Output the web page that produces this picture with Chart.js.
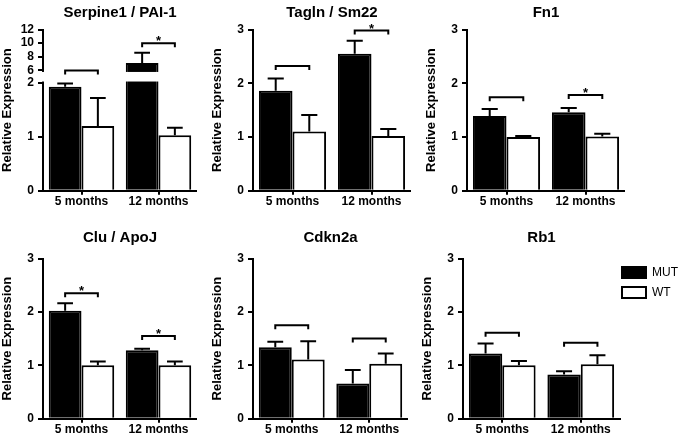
<!DOCTYPE html>
<html><head><meta charset="utf-8">
<script src="https://cdn.jsdelivr.net/npm/chart.js@4/dist/chart.umd.min.js"></script>
<style>
html,body{margin:0;padding:0;background:#fff;overflow:hidden;}
#wrap{position:relative;width:679px;height:438px;overflow:hidden;background:#fff;}
#wrap canvas{position:absolute;}
</style></head><body><div id="wrap"></div>
<script>
// ---------------- data ----------------
const categories = ['5 months', '12 months'];
const seriesNames = ['MUT', 'WT'];
const yTicksStd = [0, 1, 2, 3];
const yTicksSerpine = [0, 1, 2, 6, 8, 10, 12];
const serpineBreak = [2, 6];

const serpineMUT = [1.93, 7.09];
const serpineMUTErr = [0.06, 1.50];
const serpineWT = [1.20, 1.03];
const serpineWTErr = [0.52, 0.14];
const serpineBracket = [5.95, 10.0];
const serpineSig = [false, true];

const taglnMUT = [1.86, 2.55];
const taglnMUTErr = [0.23, 0.24];
const taglnWT = [1.10, 1.02];
const taglnWTErr = [0.31, 0.13];
const taglnBracket = [2.32, 2.98];
const taglnSig = [false, true];

const fn1MUT = [1.39, 1.46];
const fn1MUTErr = [0.13, 0.08];
const fn1WT = [1.00, 1.01];
const fn1WTErr = [0.02, 0.05];
const fn1Bracket = [1.74, 1.78];
const fn1Sig = [false, true];

const cluMUT = [2.02, 1.28];
const cluMUTErr = [0.14, 0.03];
const cluWT = [1.00, 1.00];
const cluWTErr = [0.07, 0.07];
const cluBracket = [2.35, 1.55];
const cluSig = [true, true];

const cdkn2aMUT = [1.34, 0.66];
const cdkn2aMUTErr = [0.10, 0.25];
const cdkn2aWT = [1.11, 1.03];
const cdkn2aWTErr = [0.34, 0.19];
const cdkn2aBracket = [1.75, 1.50];
const cdkn2aSig = [false, false];

const rb1MUT = [1.22, 0.83];
const rb1MUTErr = [0.19, 0.06];
const rb1WT = [1.00, 1.02];
const rb1WTErr = [0.08, 0.17];
const rb1Bracket = [1.61, 1.42];
const rb1Sig = [false, false];

// ---------------- broken linear scale ----------------
class BrokenLinearScale extends Chart.LinearScale {
  static id = 'brokenLinear';
  static defaults = {};
  _frac(v) {
    const b = this.options.brk;
    const lo = b.range[0], hi = b.range[1], max = this.max;
    if (v <= lo) return v / lo * b.loFrac;
    if (v <= hi) return b.loFrac + (v - lo) / (hi - lo) * b.gapFrac;
    return b.loFrac + b.gapFrac + (v - hi) / (max - hi) * (1 - b.loFrac - b.gapFrac);
  }
  getPixelForValue(v) {
    if (v === null || v === undefined || isNaN(v)) return NaN;
    return this.bottom - this._frac(v) * (this.bottom - this.top);
  }
  getValueForPixel(p) {
    const b = this.options.brk;
    const lo = b.range[0], hi = b.range[1], max = this.max;
    const f = (this.bottom - p) / (this.bottom - this.top);
    if (f <= b.loFrac) return f / b.loFrac * lo;
    if (f <= b.loFrac + b.gapFrac) return lo + (f - b.loFrac) / b.gapFrac * (hi - lo);
    return hi + (f - b.loFrac - b.gapFrac) / (1 - b.loFrac - b.gapFrac) * (max - hi);
  }
}
Chart.register(BrokenLinearScale);

Chart.defaults.font.family = "'Liberation Sans', Arial, sans-serif";
Chart.defaults.color = '#000';

// ---------------- annotations (error bars, brackets, axis break) ----------------
function annotPlugin(p) {
  return {
    id: 'annot',
    afterDatasetsDraw(chart) {
      const ctx = chart.ctx, y = chart.scales.y, area = chart.chartArea;
      ctx.save();
      if (p.breakRange) {
        const yTop = y.getPixelForValue(p.breakRange[1]) + 1.5;
        const yBot = y.getPixelForValue(p.breakRange[0]) - 1.5;
        ctx.fillStyle = '#fff';
        ctx.fillRect(area.left - 4, yTop, area.right - area.left + 4, yBot - yTop);
      }
      ctx.strokeStyle = '#000';
      ctx.fillStyle = '#000';
      ctx.lineWidth = 2;
      p.errs.forEach((errArr, di) => {
        const meta = chart.getDatasetMeta(di);
        const vals = chart.data.datasets[di].data;
        meta.data.forEach((bar, i) => {
          const v = vals[i], e = errArr[i];
          const y0 = y.getPixelForValue(v), y1 = y.getPixelForValue(v + e);
          const half = bar.width * 0.24;
          ctx.beginPath();
          ctx.moveTo(bar.x, y0); ctx.lineTo(bar.x, y1);
          ctx.moveTo(bar.x - half, y1); ctx.lineTo(bar.x + half, y1);
          ctx.stroke();
        });
      });
      const m0 = chart.getDatasetMeta(0), m1 = chart.getDatasetMeta(1);
      p.brackets.forEach((b, i) => {
        const xa = m0.data[i].x, xb = m1.data[i].x, yb = y.getPixelForValue(b);
        ctx.beginPath();
        ctx.moveTo(xa, yb + 4); ctx.lineTo(xa, yb); ctx.lineTo(xb, yb); ctx.lineTo(xb, yb + 4);
        ctx.stroke();
        if (p.sig[i]) {
          ctx.font = "bold 13px 'Liberation Sans', Arial, sans-serif";
          ctx.textAlign = 'center';
          ctx.textBaseline = 'alphabetic';
          ctx.fillText('*', (xa + xb) / 2, yb + 2);
        }
      });
      ctx.restore();
    }
  };
}

// place the legend just right of the plot area (legend box width is capped by maxWidth)
const legendPlace = {
  id: 'legendPlace',
  afterLayout(chart) {
    const l = chart.legend;
    if (l && l.options.display) {
      l.left = chart.chartArea.right + 2 - l.options.labels.padding;
      l.right = l.left + 90;
    }
  }
};

// ---------------- panels ----------------
const panels = [
  { title: 'Serpine1 / PAI-1', mut: serpineMUT, wt: serpineWT, errs: [serpineMUTErr, serpineWTErr],
    brackets: serpineBracket, sig: serpineSig, ticks: yTicksSerpine, max: 12, broken: true,
    left: 0, top: 0, width: 197, height: 215, row: 0, padRight: 0 },
  { title: 'Tagln / Sm22', mut: taglnMUT, wt: taglnWT, errs: [taglnMUTErr, taglnWTErr],
    brackets: taglnBracket, sig: taglnSig, ticks: yTicksStd, max: 3,
    left: 210, top: 0, width: 201, height: 215, row: 0, padRight: 0 },
  { title: 'Fn1', mut: fn1MUT, wt: fn1WT, errs: [fn1MUTErr, fn1WTErr],
    brackets: fn1Bracket, sig: fn1Sig, ticks: yTicksStd, max: 3,
    left: 424, top: 0, width: 201, height: 215, row: 0, padRight: 0 },
  { title: 'Clu / ApoJ', mut: cluMUT, wt: cluWT, errs: [cluMUTErr, cluWTErr],
    brackets: cluBracket, sig: cluSig, ticks: yTicksStd, max: 3,
    left: 0, top: 215, width: 197, height: 223, row: 1, padRight: 0 },
  { title: 'Cdkn2a', mut: cdkn2aMUT, wt: cdkn2aWT, errs: [cdkn2aMUTErr, cdkn2aWTErr],
    brackets: cdkn2aBracket, sig: cdkn2aSig, ticks: yTicksStd, max: 3,
    left: 210, top: 215, width: 198, height: 223, row: 1, padRight: 0 },
  { title: 'Rb1', mut: rb1MUT, wt: rb1WT, errs: [rb1MUTErr, rb1WTErr],
    brackets: rb1Bracket, sig: rb1Sig, ticks: yTicksStd, max: 3, legend: true,
    left: 420, top: 215, width: 274, height: 223, row: 1, padRight: 34 }
];

const wrap = document.getElementById('wrap');
panels.forEach(p => {
  const cv = document.createElement('canvas');
  cv.width = p.width; cv.height = p.height;
  cv.style.left = p.left + 'px'; cv.style.top = p.top + 'px';
  cv.style.width = p.width + 'px'; cv.style.height = p.height + 'px';
  wrap.appendChild(cv);

  const yOpts = {
    type: p.broken ? 'brokenLinear' : 'linear',
    min: 0, max: p.max,
    afterFit: s => { s.width = 43; },
    afterBuildTicks: s => { s.ticks = p.ticks.map(v => ({ value: v })); },
    ticks: { autoSkip: false, color: '#000', font: { size: 12, weight: 'bold' }, padding: 4, callback: v => String(v) },
    grid: { drawOnChartArea: false, drawTicks: true, tickLength: 5, color: '#000', lineWidth: 2 },
    border: { display: true, color: '#000', width: 2 },
    title: { display: true, text: 'Relative Expression', color: '#000', font: { size: 13, weight: 'bold' }, padding: { top: 0, bottom: 0 } }
  };
  if (p.broken) yOpts.brk = { range: serpineBreak, loFrac: 0.668, gapFrac: 0.078 };

  const barStyle = { borderWidth: 2, borderColor: '#000', categoryPercentage: 0.85, barPercentage: 1, inflateAmount: 0 };

  new Chart(cv, {
    type: 'bar',
    data: {
      labels: categories,
      datasets: [
        Object.assign({ label: seriesNames[0], data: p.mut, backgroundColor: '#000' }, barStyle),
        Object.assign({ label: seriesNames[1], data: p.wt, backgroundColor: '#fff' }, barStyle)
      ]
    },
    options: {
      responsive: false,
      animation: false,
      events: [],
      layout: { padding: { left: 0, right: p.padRight, top: 0, bottom: p.row === 0 ? 5.9 : 0.9 } },
      scales: {
        x: {
          offset: true,
          ticks: { color: '#000', font: { size: 12, weight: 'bold' }, padding: 0, maxRotation: 0, autoSkip: false },
          grid: { offset: false, drawOnChartArea: false, drawTicks: true, tickLength: 4, color: '#000', lineWidth: 2 },
          border: { display: true, color: '#000', width: 2 }
        },
        y: yOpts
      },
      plugins: {
        title: {
          display: true, text: p.title, color: '#000', fullSize: false,
          font: { size: 15, weight: 'bold' },
          padding: p.row === 0 ? { top: 4, bottom: 7.5 } : { top: 13.5, bottom: 12 }
        },
        legend: {
          display: !!p.legend, position: 'right', align: 'start', fullSize: false, maxWidth: 40,
          labels: { boxWidth: 24, boxHeight: 11, padding: 8, color: '#000',
                    font: { size: 12, weight: 'normal', family: "'Liberation Sans', Arial, sans-serif" } }
        },
        tooltip: { enabled: false }
      }
    },
    plugins: [annotPlugin({ errs: p.errs, brackets: p.brackets, sig: p.sig, breakRange: p.broken ? serpineBreak : null }), legendPlace]
  });
});
</script>
</body></html>
